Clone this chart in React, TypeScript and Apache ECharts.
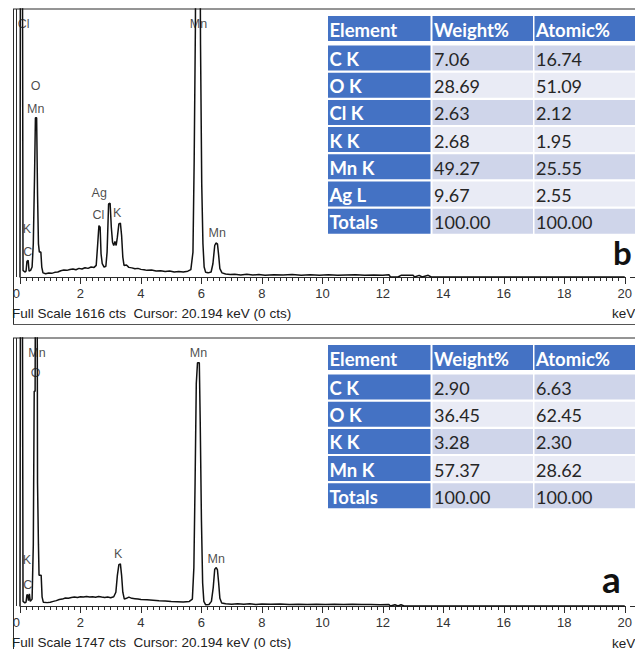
import React, { useEffect, useRef } from "react";
import * as echarts from "echarts";

// ---------- data ----------
const xTickValues = [0, 2, 4, 6, 8, 10, 12, 14, 16, 18, 20];

const fullScaleB = 1616;
const fullScaleA = 1747;

// EDS spectrum b (keV, counts)
const spectrumB: [number, number][] = [
  [0.0, 0], [0.02, 3000], [0.07, 3000], [0.1, 40], [0.16, 30], [0.2, 35], [0.23, 95], [0.27, 100],
  [0.3, 35], [0.35, 40], [0.4, 60], [0.44, 200], [0.48, 600], [0.51, 960], [0.55, 960], [0.58, 500],
  [0.61, 200], [0.64, 150], [0.69, 150], [0.72, 60], [0.76, 25], [0.85, 20], [0.95, 24], [1.05, 22],
  [1.15, 28], [1.25, 30], [1.35, 38], [1.45, 42], [1.55, 40], [1.65, 45], [1.75, 48], [1.85, 44],
  [1.95, 52], [2.05, 48], [2.15, 56], [2.25, 52], [2.35, 60], [2.45, 58], [2.52, 70], [2.57, 200],
  [2.61, 310], [2.65, 300], [2.68, 140], [2.72, 80], [2.78, 60], [2.84, 65], [2.88, 150], [2.93, 440],
  [2.98, 445], [3.02, 300], [3.06, 210], [3.1, 190], [3.14, 215], [3.18, 190], [3.22, 240], [3.27, 320],
  [3.32, 325], [3.36, 250], [3.4, 120], [3.44, 70], [3.52, 72], [3.6, 58], [3.7, 55], [3.8, 50],
  [3.9, 52], [4.0, 46], [4.1, 44], [4.2, 40], [4.35, 42], [4.5, 36], [4.65, 38], [4.8, 33], [4.95, 36],
  [5.1, 30], [5.25, 33], [5.4, 30], [5.55, 35], [5.65, 45], [5.72, 150], [5.76, 700], [5.8, 1500],
  [5.84, 3000], [5.93, 3000], [5.97, 1400], [6.01, 560], [6.05, 200], [6.09, 60], [6.14, 28], [6.22, 25],
  [6.32, 30], [6.38, 80], [6.44, 190], [6.48, 205], [6.53, 200], [6.57, 130], [6.61, 50], [6.68, 25],
  [6.8, 18], [6.95, 15], [7.1, 16], [7.3, 12], [7.5, 16], [7.7, 12], [7.9, 15], [8.1, 11], [8.4, 14],
  [8.7, 12], [9.0, 15], [9.3, 10], [9.6, 13], [9.9, 11], [10.2, 14], [10.5, 10], [10.8, 12], [11.1, 14],
  [11.4, 10], [11.7, 12], [12.0, 11], [12.2, 14], [12.25, 0], [12.5, 0], [12.6, 10], [13.0, 10],
  [13.05, 0], [13.2, 10], [13.3, 0], [13.5, 10], [13.6, 0], [20, 0],
];

// EDS spectrum a (keV, counts)
const spectrumA: [number, number][] = [
  [0.0, 0], [0.02, 3000], [0.07, 3000], [0.1, 30], [0.16, 20], [0.2, 25], [0.23, 75], [0.26, 70],
  [0.28, 35], [0.31, 80], [0.34, 30], [0.4, 45], [0.44, 400], [0.47, 1400], [0.5, 1400], [0.52, 3000],
  [0.56, 3000], [0.58, 800], [0.61, 400], [0.63, 200], [0.7, 200], [0.73, 60], [0.77, 25], [0.9, 22],
  [1.0, 25], [1.1, 30], [1.2, 35], [1.3, 42], [1.4, 45], [1.5, 52], [1.6, 50], [1.7, 56], [1.8, 58],
  [1.9, 55], [2.0, 60], [2.1, 58], [2.2, 62], [2.3, 58], [2.4, 60], [2.5, 57], [2.6, 62], [2.7, 58],
  [2.8, 55], [2.9, 58], [3.0, 54], [3.1, 60], [3.17, 90], [3.22, 200], [3.27, 270], [3.32, 275],
  [3.36, 200], [3.4, 90], [3.45, 45], [3.52, 50], [3.6, 58], [3.7, 50], [3.8, 48], [3.9, 45], [4.0, 42],
  [4.2, 40], [4.4, 38], [4.6, 35], [4.8, 33], [5.0, 30], [5.2, 28], [5.4, 26], [5.6, 30], [5.7, 45],
  [5.75, 250], [5.79, 800], [5.83, 1450], [5.87, 1585], [5.93, 1585], [5.96, 1200], [6.0, 560],
  [6.04, 150], [6.08, 30], [6.14, 8], [6.25, 10], [6.33, 30], [6.39, 120], [6.44, 240], [6.49, 250],
  [6.53, 235], [6.57, 150], [6.61, 50], [6.67, 20], [6.8, 14], [7.0, 12], [7.2, 15], [7.4, 11],
  [7.6, 14], [7.8, 10], [8.0, 13], [8.3, 11], [8.6, 13], [8.9, 10], [9.2, 12], [9.5, 9], [9.8, 12],
  [10.1, 10], [10.4, 11], [10.7, 9], [11.0, 11], [11.3, 9], [11.6, 10], [11.9, 8], [12.2, 10],
  [12.25, 0], [12.4, 8], [12.5, 0], [12.6, 8], [12.7, 0], [20, 0],
];

// peak labels [keV, counts, text]
const peakLabelsB: [number, number, string][] = [
  [0.12, 1525, "Cl"], [5.9, 1525, "Mn"], [0.52, 1152, "O"], [0.52, 1013, "Mn"], [0.23, 289, "K"],
  [0.26, 151, "C"], [2.62, 507, "Ag"], [2.59, 374, "Cl"], [3.21, 386, "K"], [6.52, 265, "Mn"],
];
const peakLabelsA: [number, number, string][] = [
  [0.56, 1650, "Mn"], [0.52, 1519, "O"], [0.23, 300, "K"], [0.26, 137, "C"], [3.25, 339, "K"],
  [5.9, 1650, "Mn"], [6.49, 306, "Mn"],
];

// tables
const tableHeader = ["Element", "Weight%", "Atomic%"];
const tableBElements = ["C K", "O K", "Cl K", "K K", "Mn K", "Ag L", "Totals"];
const tableBWeight = ["7.06", "28.69", "2.63", "2.68", "49.27", "9.67", "100.00"];
const tableBAtomic = ["16.74", "51.09", "2.12", "1.95", "25.55", "2.55", "100.00"];
const tableAElements = ["C K", "O K", "K K", "Mn K", "Totals"];
const tableAWeight = ["2.90", "36.45", "3.28", "57.37", "100.00"];
const tableAAtomic = ["6.63", "62.45", "2.30", "28.62", "100.00"];

const footerB = "Full Scale 1616 cts  Cursor: 20.194 keV (0 cts)";
const footerA = "Full Scale 1747 cts  Cursor: 20.194 keV (0 cts)";

// ---------- layout ----------
const W = 635;
const H = 649;
const PANEL_OFFSET = 329;
const GRID_LEFT = 20;
const GRID_WIDTH = 610;
const GRID_TOP = 9;
const GRID_HEIGHT = 268;

const BLUE = "#4472C4";
const DARK_ROW = "#CFD5EA";
const LIGHT_ROW = "#E9EBF5";
const LINE = "#2b2b2b";

function buildTable(top: number, elements: string[], weight: string[], atomic: string[]) {
  const colX = [328, 432.5, 534.5];
  const colW = [102.5, 100.5, 110];
  const headerH = 25;
  const rowStart = top + 29.5;
  const stride = 27.2;
  const rowH = 25;
  const els: any[] = [];
  const fontFamily = "Lato";
  const boldSize = 18.5;
  const regSize = 18;
  tableHeader.forEach((h, c) => {
    els.push({ type: "rect", shape: { x: colX[c], y: top, width: colW[c], height: headerH }, style: { fill: BLUE } });
    els.push({
      type: "text", x: colX[c] + 1.5, y: top + headerH / 2 + 1,
      style: { text: h, fill: "#fff", fontFamily, fontSize: boldSize, fontWeight: "bold", verticalAlign: "middle", align: "left" },
    });
  });
  elements.forEach((e, r) => {
    const y = rowStart + r * stride;
    const fill = r % 2 === 0 ? DARK_ROW : LIGHT_ROW;
    els.push({ type: "rect", shape: { x: colX[0], y, width: colW[0], height: rowH }, style: { fill: BLUE } });
    els.push({ type: "rect", shape: { x: colX[1], y, width: colW[1], height: rowH }, style: { fill } });
    els.push({ type: "rect", shape: { x: colX[2], y, width: colW[2], height: rowH }, style: { fill } });
    const vals = [e, weight[r], atomic[r]];
    vals.forEach((v, c) => {
      els.push({
        type: "text", x: colX[c] + 1.5, y: y + rowH / 2 + 1,
        style: {
          text: v, fill: c === 0 ? "#fff" : "#262626", fontFamily,
          fontSize: c === 0 ? boldSize : regSize,
          fontWeight: c === 0 ? "bold" : "normal", verticalAlign: "middle", align: "left",
        },
      });
    });
  });
  return els;
}

function buildFrame(top: number, bottom: number) {
  const axisY = top + GRID_HEIGHT;
  const els: any[] = [
    { type: "line", shape: { x1: 13, y1: top, x2: W, y2: top }, style: { stroke: LINE, lineWidth: 1 } },
    { type: "line", shape: { x1: 13.5, y1: top, x2: 13.5, y2: bottom }, style: { stroke: LINE, lineWidth: 1 } },
    { type: "line", shape: { x1: 16.5, y1: top, x2: 16.5, y2: axisY }, style: { stroke: LINE, lineWidth: 1 } },
    { type: "line", shape: { x1: GRID_LEFT + GRID_WIDTH, y1: axisY + 0.5, x2: W, y2: axisY + 0.5 }, style: { stroke: LINE, lineWidth: 1 } },
  ];
  if (bottom < H) {
    els.push({ type: "line", shape: { x1: 13, y1: bottom + 0.5, x2: W, y2: bottom + 0.5 }, style: { stroke: "#555", lineWidth: 1 } });
  }
  return els;
}

const footerStyle = { fontFamily: "Liberation Sans", fontSize: 13.5, fill: "#222", verticalAlign: "middle" };

export default function App() {
  const ref = useRef<HTMLDivElement>(null);

  useEffect(() => {
    if (!ref.current) return;
    const chart = echarts.init(ref.current, undefined, { renderer: "svg" });

    const grids = [
      { left: GRID_LEFT, top: GRID_TOP, width: GRID_WIDTH, height: GRID_HEIGHT },
      { left: GRID_LEFT, top: GRID_TOP + PANEL_OFFSET, width: GRID_WIDTH, height: GRID_HEIGHT },
    ];

    const mkX = (gridIndex: number) => ({
      type: "value", gridIndex, min: xTickValues[0], max: xTickValues[xTickValues.length - 1], interval: 2,
      axisLine: { show: true, onZero: false, lineStyle: { color: LINE, width: 1 } },
      axisTick: { show: true, length: 7, lineStyle: { color: LINE, width: 1 } },
      minorTick: { show: true, splitNumber: 10, length: 4, lineStyle: { color: LINE, width: 1 } },
      splitLine: { show: false },
      minorSplitLine: { show: false },
      axisLabel: {
        show: true, margin: 10, fontFamily: "Liberation Sans", fontSize: 13, color: "#333",
        alignMinLabel: "right",
      },
    });
    const mkY = (gridIndex: number, max: number) => ({
      type: "value", gridIndex, min: 0, max, show: false, splitLine: { show: false },
    });

    const lineSeries = (idx: number, data: [number, number][]) => ({
      type: "line", xAxisIndex: idx, yAxisIndex: idx, data, showSymbol: false, symbol: "none",
      clip: true, lineStyle: { color: "#111", width: 1.5 }, silent: true,
    });
    const labelSeries = (idx: number, data: [number, number, string][]) => ({
      type: "scatter", xAxisIndex: idx, yAxisIndex: idx, data, symbolSize: 1,
      itemStyle: { color: "rgba(0,0,0,0)" }, silent: true, z: 5,
      label: {
        show: true, position: "inside", formatter: (p: any) => p.data[2],
        fontFamily: "Liberation Sans", fontSize: 12.5, color: "#1a1a1a",
        textBorderWidth: 0, textBorderColor: "transparent",
      },
    });

    const graphics: any[] = [
      ...buildFrame(GRID_TOP, 324),
      ...buildFrame(GRID_TOP + PANEL_OFFSET, H + 5),
      ...buildTable(16, tableBElements, tableBWeight, tableBAtomic),
      ...buildTable(16 + PANEL_OFFSET, tableAElements, tableAWeight, tableAAtomic),
      { type: "text", x: 12, y: 313, style: { text: footerB, ...footerStyle } },
      { type: "text", x: 612, y: 313, style: { text: "keV", ...footerStyle } },
      { type: "text", x: 12, y: 313 + PANEL_OFFSET, style: { text: footerA, ...footerStyle } },
      { type: "text", x: 612, y: 314 + PANEL_OFFSET, style: { text: "keV", ...footerStyle } },
      { type: "text", x: 613, y: 268, style: { text: "b", fontFamily: "Lato", fontSize: 33, fontWeight: "bold", fill: "#111", verticalAlign: "bottom" } },
      { type: "text", x: 602, y: 597, style: { text: "a", fontFamily: "Lato", fontSize: 37, fontWeight: "bold", fill: "#111", verticalAlign: "bottom" } },
    ];

    chart.setOption({
      animation: false,
      backgroundColor: "#fff",
      grid: grids,
      xAxis: [mkX(0), mkX(1)],
      yAxis: [mkY(0, fullScaleB), mkY(1, fullScaleA)],
      series: [
        lineSeries(0, spectrumB),
        lineSeries(1, spectrumA),
        labelSeries(0, peakLabelsB),
        labelSeries(1, peakLabelsA),
      ],
      graphic: graphics,
    });

    return () => chart.dispose();
  }, []);

  return (
    <div
      ref={ref}
      style={{ position: "absolute", left: 0, top: 0, width: W, height: H, background: "#fff" }}
    />
  );
}
